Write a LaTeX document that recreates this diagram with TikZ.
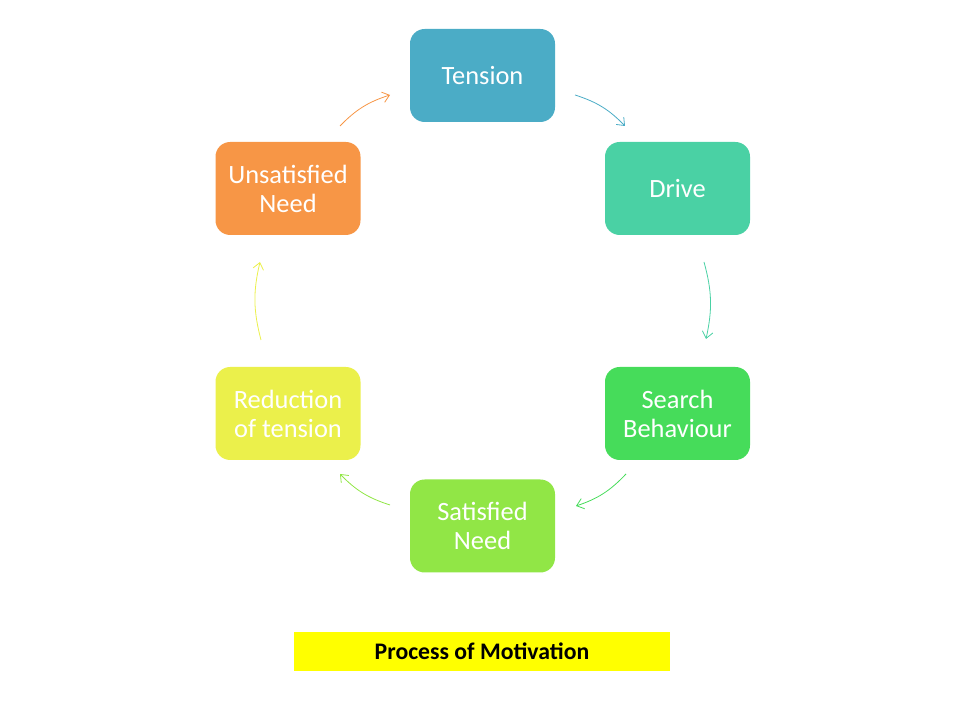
\documentclass[tikz,border=0pt]{standalone}
\usepackage{fontspec}
\setmainfont{Carlito}
\usetikzlibrary{arrows.meta}
\definecolor{cTension}{RGB}{75,172,198}
\definecolor{cDrive}{RGB}{74,209,164}
\definecolor{cSearch}{RGB}{70,220,90}
\definecolor{cSatisfied}{RGB}{145,230,70}
\definecolor{cReduction}{RGB}{235,240,75}
\definecolor{cUnsat}{RGB}{247,150,70}
\definecolor{cTitle}{RGB}{255,255,0}
\tikzset{
  stagebox/.style={fill=#1, draw=none, rounded corners=11pt, minimum width=108.75pt, minimum height=69.75pt,
    text=white, font=\fontsize{19.8}{21.75}\selectfont, align=center, inner sep=0pt},
  cyclearrow/.style={draw=#1, line width=0.6pt, -{Straight Barb[length=5pt,width=8pt,line width=0.6pt]}, bend left=14},
  titlebox/.style={fill=cTitle, draw=none, minimum width=282pt, minimum height=29.25pt, font=\fontsize{17.8}{20}\selectfont\bfseries, text=black, inner sep=0pt}
}
\begin{document}
\begin{tikzpicture}[x=0.75pt,y=0.75pt]
\useasboundingbox (0,0) rectangle (960,720);
\node[stagebox=cTension] (tension) at (482.5,644.5) {Tension};
\node[stagebox=cDrive] (drive) at (677.5,531.5) {Drive};
\node[stagebox=cSearch] (search) at (677.5,306.5) {Search\\Behaviour};
\node[stagebox=cSatisfied] (satisfied) at (482.5,194) {Satisfied\\Need};
\node[stagebox=cReduction] (reduction) at (288,306.5) {Reduction\\of tension};
\node[stagebox=cUnsat] (unsat) at (288,531.5) {Unsatisfied\\Need};
\coordinate (a1s) at (575,625); \coordinate (a1e) at (625,594);
\coordinate (a2s) at (704,458); \coordinate (a2e) at (706,381);
\coordinate (a3s) at (626,246); \coordinate (a3e) at (576,214);
\coordinate (a4s) at (390,215); \coordinate (a4e) at (340,246);
\coordinate (a5s) at (261,380); \coordinate (a5e) at (260,458);
\coordinate (a6s) at (340,594); \coordinate (a6e) at (390,625);
\draw[cyclearrow=cTension] (a1s) to (a1e);
\draw[cyclearrow=cDrive] (a2s) to (a2e);
\draw[cyclearrow=cSearch] (a3s) to (a3e);
\draw[cyclearrow=cSatisfied] (a4s) to (a4e);
\draw[cyclearrow=cReduction] (a5s) to (a5e);
\draw[cyclearrow=cUnsat] (a6s) to (a6e);
\node[titlebox] (title) at (482,68.5) {Process of Motivation};
\end{tikzpicture}
\end{document}
